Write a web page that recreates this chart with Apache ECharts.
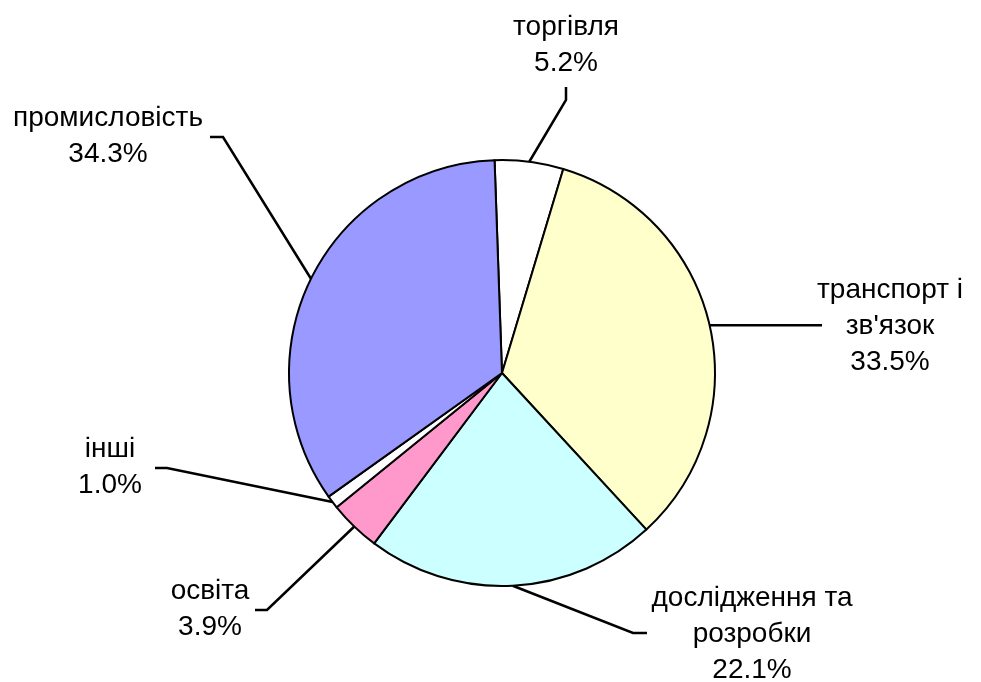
<!DOCTYPE html>
<html>
<head>
<meta charset="utf-8">
<script src="https://cdn.jsdelivr.net/npm/echarts@6/dist/echarts.min.js"></script>
<style>
    html, body { margin: 0; padding: 0; background: #fff; }
    #chart { width: 981px; height: 682px; }
</style>
</head>
<body>
<div id="chart"></div>
<script>
// сектори за годинниковою стрілкою, від торгівлі
var categories = ['торгівля', 'транспорт і\nзв\'язок', 'дослідження та\nрозробки', 'освіта', 'інші', 'промисловість'];
var shares = [5.2, 33.5, 22.1, 3.9, 1.0, 34.3];
var colors = ['#FFFFFF', '#FFFFCC', '#CCFFFF', '#FF99CC', '#FFFFFF', '#9999FF'];

// підписи: центр тексту, злам виноски, кінець виноски
var labelSpots = [
    { x: 566, y: 45, bend: [566, 100], end: [566, 87] },
    { x: 890, y: 326, bend: null, end: [822, null] },
    { x: 752, y: 634, bend: [633, 633], end: [647, 633] },
    { x: 210, y: 609, bend: [267, 610], end: [255, 610] },
    { x: 110, y: 467, bend: [167, 468], end: [155, 468] },
    { x: 108, y: 136, bend: [223, 137], end: [210, 137] }
];

var pieCenter = [502, 373];
var pieRadius = 213;
var startAngle = 92;

// точка на краю кола посередині сектора
function midEdge(i) {
    var before = 0, total = 0;
    for (var k = 0; k < shares.length; k++) {
        total += shares[k];
        if (k < i) before += shares[k];
    }
    var a = (startAngle - (before + shares[i] / 2) / total * 360) * Math.PI / 180;
    return [pieCenter[0] + pieRadius * Math.cos(a), pieCenter[1] - pieRadius * Math.sin(a)];
}

var myChart = echarts.init(document.getElementById('chart'));
var option = {
    animation: false,
    backgroundColor: '#fff',
    series: [{
        type: 'pie',
        center: pieCenter,
        radius: pieRadius,
        startAngle: startAngle,
        clockwise: true,
        avoidLabelOverlap: false,
        emphasis: { disabled: true },
        itemStyle: {
            borderColor: '#000',
            borderWidth: 2
        },
        label: {
            show: true,
            position: 'outside',
            color: '#000',
            fontFamily: '"Liberation Sans", Arial, sans-serif',
            fontSize: 28,
            lineHeight: 36,
            align: 'center',
            formatter: function (p) {
                return p.name + '\n' + p.value.toFixed(1) + '%';
            }
        },
        labelLine: {
            show: true,
            lineStyle: { color: '#000', width: 2.5 }
        },
        labelLayout: function (params) {
            var s = labelSpots[params.dataIndex];
            var p0 = midEdge(params.dataIndex);
            var end = [s.end[0], s.end[1] == null ? p0[1] : s.end[1]];
            var bend = s.bend || [(p0[0] + end[0]) / 2, end[1]];
            return {
                x: s.x,
                y: s.y,
                align: 'center',
                verticalAlign: 'middle',
                labelLinePoints: [p0, bend, end]
            };
        },
        data: categories.map(function (name, i) {
            return { name: name, value: shares[i], itemStyle: { color: colors[i] } };
        })
    }]
};
myChart.setOption(option);
</script>
</body>
</html>
